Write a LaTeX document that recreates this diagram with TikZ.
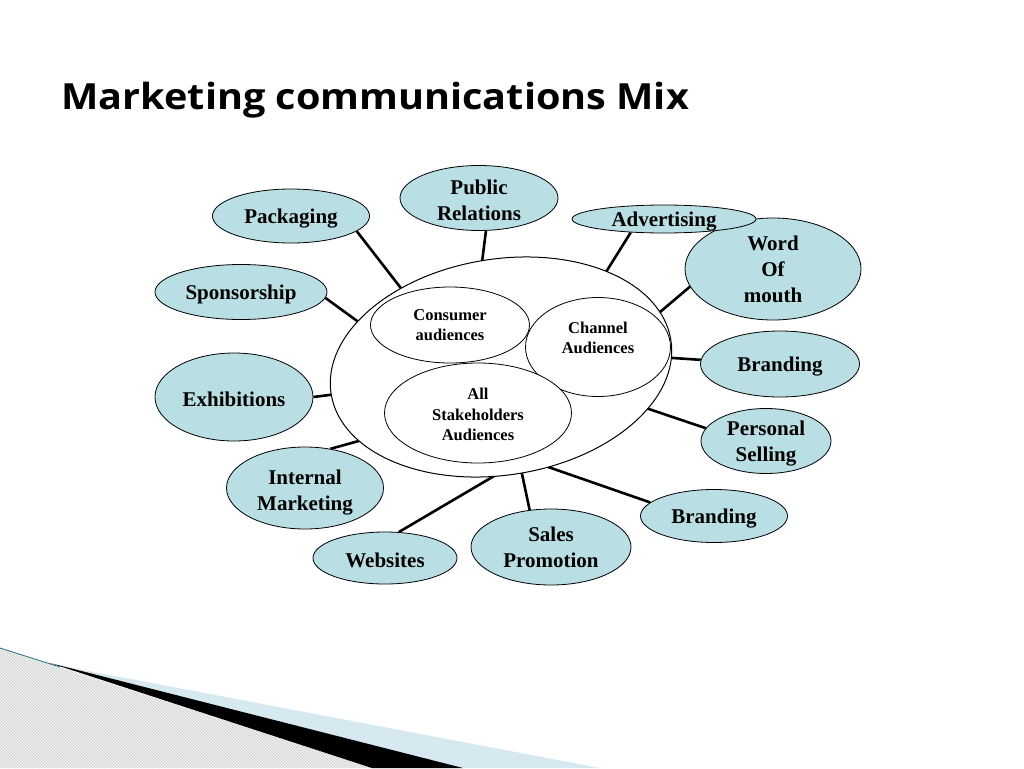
\documentclass[tikz,border=0pt]{standalone}
\usepackage{fontspec}
\setmainfont{Liberation Serif}
\newfontfamily\titlefont{Open Sans}[FakeStretch=1.1]
\usetikzlibrary{shapes.geometric,patterns,backgrounds}
\definecolor{mixblue}{RGB}{185,223,228}
\definecolor{paleblue}{RGB}{214,233,240}
\definecolor{edgeteal}{RGB}{31,111,128}

\begin{document}
\begin{tikzpicture}[x=1pt,y=-1pt,
    tool/.style={ellipse,draw=black,fill=mixblue,line width=0.8pt,inner sep=0pt,
        align=center,text height=20pt,font=\fontsize{21}{26}\selectfont\bfseries},
    aud/.style={ellipse,draw=black,fill=white,line width=0.8pt,inner sep=0pt,
        align=center,font=\fontsize{16.5}{20.5}\selectfont\bfseries},
    link/.style={line width=2.6pt,black}]
    \useasboundingbox (0,0) rectangle (1024,768);

    % corner
    \fill[gray!12] (0,648) -- (372,768) -- (0,768) -- cycle;
    \fill[pattern=north west lines, pattern color=gray!40] (0,648) -- (372,768) -- (0,768) -- cycle;
    \fill[paleblue] (57,665) -- (600,768) -- (463,768) -- cycle;
    \fill[black] (50,663) -- (463,768) -- (372,768) -- cycle;
    \draw[edgeteal, line width=0.8pt] (0,648) -- (60,667);

    % title
    \node (title) [anchor=base west, font=\titlefont\fontsize{36}{42}\selectfont\bfseries]
        at (58,109) {Marketing communications Mix};

    % audiences
    \node (all) [ellipse, draw, fill=white, line width=1pt, minimum width=344,
        minimum height=216, rotate=9] at (501,367) {};
    \node (chan) [aud, minimum width=145, minimum height=99] at (598,347) {};
    \node (chantext) [font=\fontsize{16.5}{20.5}\selectfont\bfseries, align=center]
        at (598,338) {Channel\\Audiences};
    \node (cons) [aud, minimum width=159, minimum height=76] at (450,325) {Consumer\\audiences};
    \node (stake) [aud, minimum width=187, minimum height=100, text height=56pt]
        at (478,413) {All\\Stakeholders\\Audiences};

    % tools
    \node (pack) [tool, minimum width=157, minimum height=54] at (291,216) {Packaging};
    \node (pr) [tool, minimum width=158, minimum height=65, text height=45pt] at (479,198) {Public\\Relations};
    \node (wom) [tool, minimum width=176, minimum height=102, text height=68pt] at (773,269) {Word\\Of\\mouth};
    \node (adv) [tool, minimum width=184, minimum height=28, text height=17pt, text depth=2.5pt]
        at (664,219) {Advertising};
    \node (spon) [tool, minimum width=172, minimum height=55] at (241,292) {Sponsorship};
    \node (exh) [tool, minimum width=158, minimum height=88] at (234,397) {Exhibitions};
    \node (brand1) [tool, minimum width=159, minimum height=66] at (780,364) {Branding};
    \node (sell) [tool, minimum width=130, minimum height=65, text height=43.5pt, text depth=2pt]
        at (766,441) {Personal\\Selling};
    \node (brand2) [tool, minimum width=147, minimum height=53] at (714,516) {Branding};
    \node (intm) [tool, minimum width=157, minimum height=82, text height=50.5pt] at (305,488) {Internal\\Marketing};
    \node (web) [tool, minimum width=144, minimum height=52] at (385,558) {Websites};
    \node (sales) [tool, minimum width=160, minimum height=76, text height=40.5pt] at (551,547) {Sales\\Promotion};

    % links
    \begin{scope}[on background layer]
    \foreach \n/\a/\x/\y in {pack/-13/414/305, pr/-78/480/278, adv/202/601/280,
        wom/192/653/318, spon/-4/375/334, exh/0/345/393, brand1/177/658/357,
        sell/168/631/403, brand2/168/528/460, intm/57/366/439, web/62/506/469,
        sales/120/518/455}
    {
        \coordinate (\n-in) at (\x,\y);
        \draw[link] (\n.\a) -- (\n-in);
    }
    \end{scope}
\end{tikzpicture}
\end{document}
